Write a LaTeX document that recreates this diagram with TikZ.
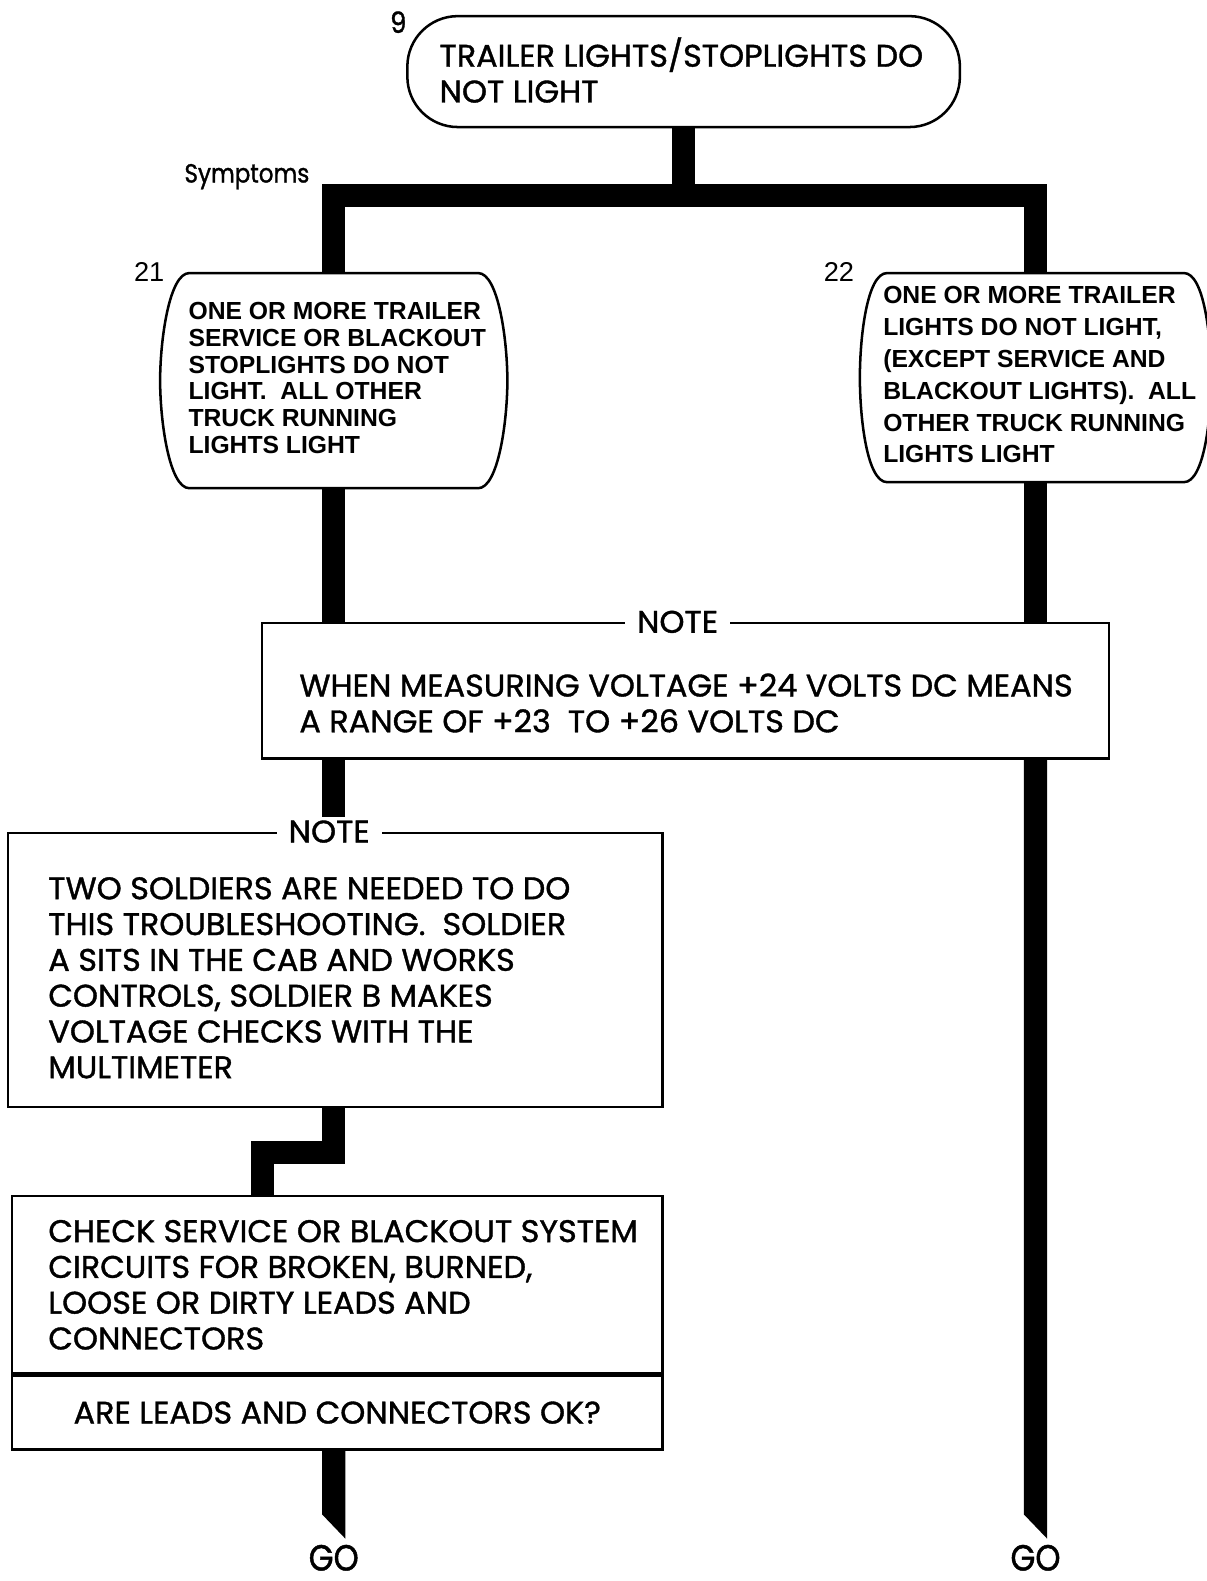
\documentclass[tikz,border=0pt]{standalone}
\usepackage{fontspec}
\newfontfamily\futura[FakeStretch=1.02, FakeBold=1.2]{Poppins}
\newfontfamily\futuralbl[FakeStretch=0.88, FakeBold=1.2]{Poppins}
\newfontfamily\helv{Liberation Sans}
\usetikzlibrary{positioning, calc}

% thick flow lines and boxes
\tikzset{
  flow/.style={line width=23pt},
  boxline/.style={draw, line width=2.5pt, inner sep=0pt},
  txt/.style={inner sep=0pt, align=left, anchor=north west, font=\fontsize{31}{35.5}\futura},
  symtxt/.style={inner sep=0pt, align=left, anchor=north west, font=\fontsize{24.5}{26.5}\helv\bfseries},
  notehead/.style={fill=white, inner xsep=12pt, inner ysep=3pt, font=\fontsize{31}{31}\futura},
  numlabel/.style={inner sep=0pt, font=\fontsize{27}{27}\helv},
  gotxt/.style={inner sep=0pt, font=\fontsize{36}{36}\futuralbl},
}

% outline with bulged sides for the symptom boxes
\newcommand{\bulgeoutline}[2]{%
  \draw[line width=2.5pt]
    ($(#1.north west)+(12,0)$) -- ($(#1.north east)+(-12,0)$)
    .. controls ($(#1.north east)+(8,0)$) and ($(#1.east)+(#2,40)$) .. ($(#1.east)+(#2,0)$)
    .. controls ($(#1.east)+(#2,-40)$) and ($(#1.south east)+(8,0)$) .. ($(#1.south east)+(-12,0)$)
    -- ($(#1.south west)+(12,0)$)
    .. controls ($(#1.south west)+(-8,0)$) and ($(#1.west)+(-#2,-40)$) .. ($(#1.west)+(-#2,0)$)
    .. controls ($(#1.west)+(-#2,40)$) and ($(#1.north west)+(-8,0)$) .. ($(#1.north west)+(12,0)$)
    -- cycle;}

% lead with a slanted end
\newcommand{\golead}[2]{%
  \fill ($(#1)+(-11.5,0)$) -- ($(#1)+(11.5,0)$) -- ($(#2)+(11.5,0)$) -- ($(#2)+(-11.5,24)$) -- cycle;}

\begin{document}
\begin{tikzpicture}[x=1pt, y=1pt]
\useasboundingbox (0,0) rectangle (1197,-1568);

% fault
\node (start) [boxline, rounded corners=50pt, minimum width=548pt, minimum height=110pt] at (678,-71) {};
\node (starttxt) [txt, below right=22pt and 33pt of start.north west] {TRAILER LIGHTS/STOPLIGHTS DO\\NOT LIGHT};
\node (n9) [numlabel, font=\fontsize{29}{29}\futuralbl] at (395,-22) {9};
\coordinate (split) at (start.south |- 0,-194);
\node (symp) [inner sep=0pt, anchor=base east, font=\fontsize{26}{26}\futuralbl] at (307,-181) {Symptoms};

% symptoms
\node (b21) [minimum width=310pt, minimum height=213pt, inner sep=0pt] at (331,-377.5) {};
\bulgeoutline{b21}{17}
\node (b21txt) [symtxt, below right=29pt and 11pt of b21.north west] {ONE OR MORE TRAILER\\SERVICE OR BLACKOUT\\STOPLIGHTS DO NOT\\LIGHT.\ \ ALL OTHER\\TRUCK RUNNING\\LIGHTS LIGHT};
\node (n21) [numlabel] at (148,-270) {21};

\node (b22) [minimum width=318pt, minimum height=207pt, inner sep=0pt] at (1027,-374.5) {};
\bulgeoutline{b22}{15}
\node (b22txt) [symtxt, font=\fontsize{24.5}{31.6}\helv\bfseries, below right=13pt and 8pt of b22.north west] {ONE OR MORE TRAILER\\LIGHTS DO NOT LIGHT,\\(EXCEPT SERVICE AND\\BLACKOUT LIGHTS).\ \ ALL\\OTHER TRUCK RUNNING\\LIGHTS LIGHT};
\node (n22) [numlabel] at (832,-270) {22};

% notes
\node (note1) [boxline, minimum width=840pt, minimum height=134pt] at (680,-685) {};
\node (note1head) [notehead] at ($(note1.north)+(-8,0)$) {NOTE};
\node (note1txt) [txt, below right=51pt and 38pt of note1.north west] {WHEN MEASURING VOLTAGE +24 VOLTS DC MEANS\\A RANGE OF +23\ \ TO +26 VOLTS DC};

\node (note2) [boxline, minimum width=649pt, minimum height=272pt] at (332.5,-962) {};
\node (note2head) [notehead] at ($(note2.north)+(-6,0)$) {NOTE};
\node (note2txt) [txt, below right=45pt and 41pt of note2.north west] {TWO SOLDIERS ARE NEEDED TO DO\\THIS TROUBLESHOOTING.\ \ SOLDIER\\A SITS IN THE CAB AND WORKS\\CONTROLS, SOLDIER B MAKES\\VOLTAGE CHECKS WITH THE\\MULTIMETER};

% check
\node (check) [boxline, minimum width=645pt, minimum height=176pt] at (334.5,-1274) {};
\node (checktxt) [txt, below right=25pt and 37pt of check.north west] {CHECK SERVICE OR BLACKOUT SYSTEM\\CIRCUITS FOR BROKEN, BURNED,\\LOOSE OR DIRTY LEADS AND\\CONNECTORS};
\node (ask) [boxline, minimum width=645pt, minimum height=73pt, below=0pt of check, font=\fontsize{31}{31}\futura] {ARE LEADS AND CONNECTORS OK?};

\node (goL) [gotxt] at (331,-1545) {GO};
\node (goR) [gotxt] at (1027,-1545) {GO};
\coordinate (jog) at (260,-1143);

% leads
\draw[flow] (start.south) -- (split);
\draw[flow] (b21.north) |- (split) -| (b22.north);
\draw[flow] (b21.south) -- (b21.south |- note1.north);
\draw[flow] (b22.south) -- (b22.south |- note1.north);
\draw[flow] (note1.south -| b21.south) -- (note2head.north -| b21.south);
\draw[flow] (note2.south -| b21.south) |- (jog) -- (jog |- check.north);
\golead{ask.south -| goL}{$(goL.north)+(0,6)$}
\golead{note1.south -| goR}{$(goR.north)+(0,6)$}

\end{tikzpicture}
\end{document}
